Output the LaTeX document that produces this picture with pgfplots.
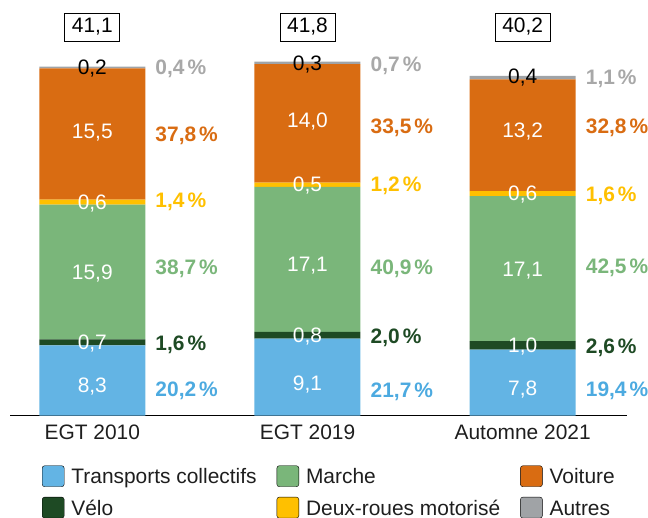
\documentclass[border=0pt]{standalone}
\usepackage{fontspec}
\setmainfont{Liberation Sans}
\usepackage{pgfplots}
\pgfplotsset{compat=1.18}
\usepackage{pgfplotstable}

\definecolor{cTC}{RGB}{99,180,228}
\definecolor{cTCt}{RGB}{76,170,224}
\definecolor{cVelo}{RGB}{30,74,36}
\definecolor{cMarche}{RGB}{122,182,122}
\definecolor{cDRM}{RGB}{255,192,0}
\definecolor{cVoit}{RGB}{217,108,18}
\definecolor{cAut}{RGB}{160,163,166}
\definecolor{cAutt}{RGB}{168,168,168}
\definecolor{txt}{RGB}{30,30,30}

\newcommand\lf{\fontsize{21}{25}\selectfont}

\pgfplotstableread{
x tc velo marche drm voiture autres
0 8.3 0.7 15.9 0.6 15.5 0.2
1 9.1 0.8 17.1 0.5 14.0 0.3
2 7.8 1.0 17.1 0.6 13.2 0.4
}\bars

\pgfplotstableread{
x ytc vtc yve vve yma vma ydr vdr yvo vvo yau vau
0 3.61 8,3 8.69 0,7 16.95 15,9 25.20 0,6 33.62 15,5 41.12 0,2
1 3.85 9,1 9.52 0,8 17.93 17,1 27.34 0,5 34.96 14,0 41.66 0,3
2 3.26 7,8 8.28 1,0 17.31 17,1 26.34 0,6 33.72 13,2 40.06 0,4
}\vals

\pgfplotstableread{
x ytc ptc yve pve yma pma ydr pdr yvo pvo yau pau
0 3.14 20,2 8.57 1,6 17.54 38,7 25.45 1,4 33.28 37,8 41.12 0,4
1 3.00 21,7 9.40 2,0 17.54 40,9 27.34 1,2 34.19 33,5 41.49 0,7
2 3.14 19,4 8.24 2,6 17.66 42,5 26.16 1,6 34.19 32,8 39.99 1,1
}\pct

\pgfplotstableread{
x y t
0 45.88 41,1
1 45.88 41,8
2 45.88 40,2
}\tot

\pgfplotsset{
  base/.style={scale only axis, width=617bp, height=415.6bp,
    xmin=-0.3824, xmax=2.4847, ymin=0, ymax=49.07,
    at={(10bp,102.4bp)}, anchor=south west, clip=false},
  vlab/.style={draw=none, mark=none, nodes near coords,
    point meta=explicit symbolic,
    every node near coord/.append style={anchor=base, yshift=-7.5bp,
      inner sep=0pt, font=\lf, text=#1}},
  plab/.style={draw=none, mark=none,
    nodes near coords={\pgfplotspointmeta\kern3bp\%},
    point meta=explicit symbolic,
    every node near coord/.append style={anchor=base west, xshift=63bp,
      yshift=-7.5bp, inner sep=0pt, font=\lf\bfseries, text=#1}},
}

\begin{document}
\begin{tikzpicture}
\path[use as bounding box] (0,0) rectangle (648bp,518bp);
\begin{axis}[base, ybar stacked, bar width=106bp,
  axis x line=bottom, axis y line=none,
  axis line style={-, line width=1bp, black},
  xtick={0,1,2}, xticklabels={EGT 2010, EGT 2019, Automne 2021},
  major tick length=0pt, ytick=\empty,
  xticklabel style={anchor=base, inner sep=0pt, yshift=-23.7bp, font=\lf, text=txt},
  legend image code/.code={\fill[#1, rounded corners=2.5bp] (0bp,-10.5bp) rectangle (22bp,10.5bp);},
  legend columns=3, legend cell align=left,
  legend style={draw=none, fill=none, inner sep=0pt, outer sep=0pt,
    font=\lf, text=txt, row sep=10bp, column sep=0pt,
    cells={anchor=west},
    nodes={inner sep=0pt, text height=15bp, text depth=0bp},
    /tikz/every odd column/.append style={column sep=7bp},
    /tikz/every even column/.append style={column sep=20bp},
    at={(0.05186,-0.1201)}, anchor=north west},
]
\addlegendimage{fill=cTC}\addlegendentry{Transports collectifs}
\addlegendimage{fill=cMarche}\addlegendentry{Marche}
\addlegendimage{fill=cVoit}\addlegendentry{Voiture}
\addlegendimage{fill=cVelo}\addlegendentry{Vélo}
\addlegendimage{fill=cDRM}\addlegendentry{Deux-roues motorisé}
\addlegendimage{fill=cAut}\addlegendentry{Autres}
\addplot[fill=cTC, draw=none] table[x=x,y=tc]{\bars};
\addplot[fill=cVelo, draw=none] table[x=x,y=velo]{\bars};
\addplot[fill=cMarche, draw=none] table[x=x,y=marche]{\bars};
\addplot[fill=cDRM, draw=none] table[x=x,y=drm]{\bars};
\addplot[fill=cVoit, draw=none] table[x=x,y=voiture]{\bars};
\addplot[fill=cAut, draw=none] table[x=x,y=autres]{\bars};
\end{axis}
\begin{axis}[base, hide axis]
\addplot[vlab=white] table[x=x,y=ytc,meta=vtc]{\vals};
\addplot[vlab=white] table[x=x,y=yve,meta=vve]{\vals};
\addplot[vlab=white] table[x=x,y=yma,meta=vma]{\vals};
\addplot[vlab=white] table[x=x,y=ydr,meta=vdr]{\vals};
\addplot[vlab=white] table[x=x,y=yvo,meta=vvo]{\vals};
\addplot[vlab=black] table[x=x,y=yau,meta=vau]{\vals};
\addplot[plab=cTCt] table[x=x,y=ytc,meta=ptc]{\pct};
\addplot[plab=cVelo] table[x=x,y=yve,meta=pve]{\pct};
\addplot[plab=cMarche] table[x=x,y=yma,meta=pma]{\pct};
\addplot[plab=cDRM] table[x=x,y=ydr,meta=pdr]{\pct};
\addplot[plab=cVoit] table[x=x,y=yvo,meta=pvo]{\pct};
\addplot[plab=cAutt] table[x=x,y=yau,meta=pau]{\pct};
\addplot[draw=none, mark=none, nodes near coords, point meta=explicit symbolic,
  every node near coord/.append style={anchor=center, draw=black, line width=0.8bp,
    minimum width=55bp, minimum height=28bp, inner sep=0pt, font=\lf, text=black}]
  table[x=x,y=y,meta=t]{\tot};
\end{axis}
\end{tikzpicture}
\end{document}
